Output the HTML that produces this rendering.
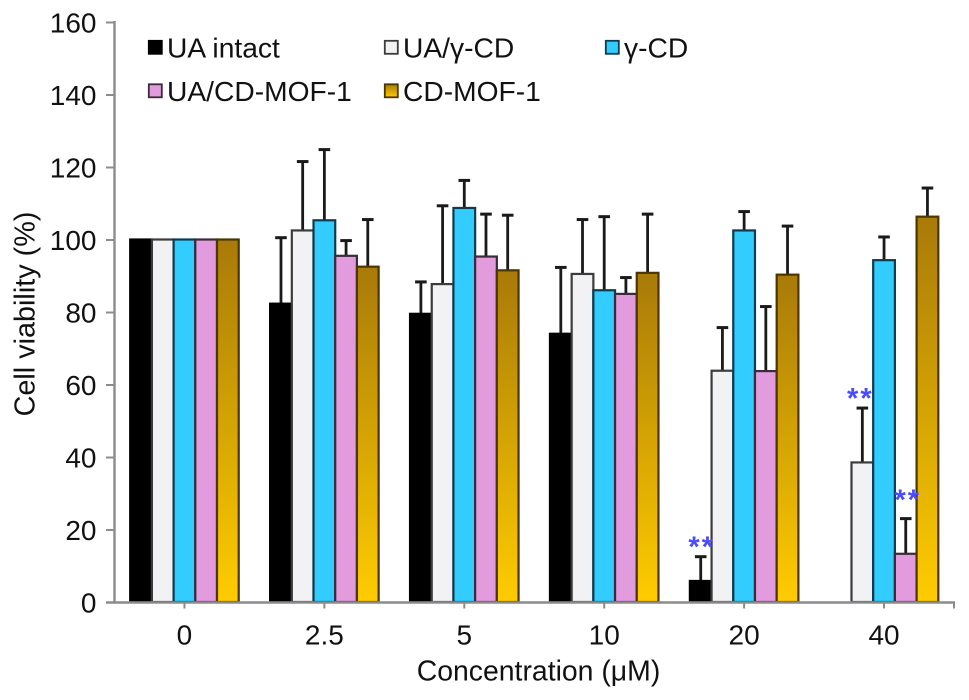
<!DOCTYPE html>
<html>
<head>
<meta charset="utf-8">
<style>
html,body{margin:0;padding:0;background:#fff;}
svg{display:block;}
text{font-family:"Liberation Sans",sans-serif;fill:#111;font-size:28px;}
</style>
</head>
<body>
<svg id="chart" xmlns="http://www.w3.org/2000/svg" width="969" height="700" viewBox="0 0 969 700">
<defs>
<linearGradient id="goldGrad" x1="0" y1="0" x2="0" y2="1">
<stop offset="0" stop-color="#a87a08"/>
<stop offset="1" stop-color="#ffcc00"/>
</linearGradient>
</defs>
</svg>
<script>
const categories = ["0", "2.5", "5", "10", "20", "40"];
const yTicks = [0, 20, 40, 60, 80, 100, 120, 140, 160];
const seriesNames = ["UA intact", "UA/γ-CD", "γ-CD", "UA/CD-MOF-1", "CD-MOF-1"];
const uaIntact = [100, 82.3, 79.5, 74, 5.8, 0];
const uaGammaCd = [100, 102.5, 87.7, 90.5, 63.8, 38.5];
const gammaCd = [100, 105.3, 108.7, 86, 102.5, 94.3];
const uaCdMof = [100, 95.5, 95.3, 85, 63.7, 13.3];
const cdMof = [100, 92.5, 91.5, 90.8, 90.3, 106.3];
const uaIntactTop = [null, 100.5, 88.3, 92.3, 12.5, null];
const uaGammaCdTop = [null, 121.5, 109.3, 105.5, 75.7, 53.5];
const gammaCdTop = [null, 124.8, 116.3, 106.3, 107.7, 100.7];
const uaCdMofTop = [null, 99.7, 107, 89.5, 81.5, 23];
const cdMofTop = [null, 105.5, 106.7, 107, 103.7, 114.2];
const starSeries = [0, 1, 3];
const starGroups = [4, 5, 5];
const starValues = [16.4, 57.4, 29.4];

const allValues = [uaIntact, uaGammaCd, gammaCd, uaCdMof, cdMof];
const allTops = [uaIntactTop, uaGammaCdTop, gammaCdTop, uaCdMofTop, cdMofTop];
const fills = ["#000000", "#f2f2f4", "#33ccff", "#e29bdc", "url(#goldGrad)"];
const strokes = ["#000000", "#3c3c3c", "#0c3c50", "#3a2a3a", "#4c3600"];

const svg = document.getElementById('chart');
const NS = 'http://www.w3.org/2000/svg';
const plotLeft = 114.5, plotRight = 954, plotBottom = 602, plotTop = 22;
const groupWidth = (plotRight - plotLeft) / categories.length;
const barWidth = 21.7;

function y(v) { return plotBottom - (v / 160) * (plotBottom - plotTop); }
function groupCenter(g) { return plotLeft + groupWidth * (g + 0.5); }
function barLeft(g, s) { return groupCenter(g) - barWidth * 2.5 + s * barWidth; }
function make(tag, attrs, parent) {
  const e = document.createElementNS(NS, tag);
  for (const k in attrs) e.setAttribute(k, attrs[k]);
  (parent || svg).appendChild(e);
  return e;
}
function slug(s) { return s.toLowerCase().replace(/γ/g, 'gamma').replace(/[^a-z0-9]+/g, '-'); }

// Bars and error bars
allValues.forEach(function (vals, s) {
  vals.forEach(function (v, g) {
    const top = allTops[s][g];
    const cx = barLeft(g, s) + barWidth / 2;
    if (top !== null) {
      const stem = make('line', { x1: cx, x2: cx, y1: y(v), y2: y(top), stroke: '#1a1a1a', 'stroke-width': 2.8 });
      
      
      const cap = make('line', { x1: cx - 5.8, x2: cx + 5.8, y1: y(top), y2: y(top), stroke: '#1a1a1a', 'stroke-width': 3 });
      
      
    }
    if (v > 0) {
      const bar = make('rect', { x: barLeft(g, s), y: y(v), width: barWidth, height: plotBottom - y(v), fill: fills[s], stroke: strokes[s], 'stroke-width': 2.2 });
      
      
    }
  });
});

// Axes
const yAxis = make('line', { x1: plotLeft, x2: plotLeft, y1: plotTop - 1, y2: plotBottom + 1, stroke: '#8c8c8c', 'stroke-width': 2.4 });


const xAxis = make('line', { x1: 106, x2: plotRight + 1, y1: plotBottom + 0.5, y2: plotBottom + 0.5, stroke: '#8c8c8c', 'stroke-width': 2.4 });


const endTick = make('line', { x1: plotRight, x2: plotRight, y1: plotBottom, y2: plotBottom + 6.5, stroke: '#8c8c8c', 'stroke-width': 2 });



yTicks.forEach(function (t) {
  const tick = make('line', { x1: 106, x2: plotLeft, y1: y(t) + 0.5, y2: y(t) + 0.5, stroke: '#8c8c8c', 'stroke-width': 2 });
  
  
  const label = make('text', { x: 96.5, y: y(t) + 10.3, 'text-anchor': 'end' });
  label.textContent = t;
  
  
});

categories.forEach(function (c, g) {
  const tick = make('line', { x1: groupCenter(g), x2: groupCenter(g), y1: plotBottom, y2: plotBottom + 6.5, stroke: '#8c8c8c', 'stroke-width': 2 });
  
  
  const label = make('text', { x: groupCenter(g), y: 644.5, 'text-anchor': 'middle' });
  label.textContent = c;
  
  
});

// Axis titles
const xTitle = make('text', { x: 538.5, y: 680.5, 'text-anchor': 'middle', style: 'font-size:28.4px' });
xTitle.textContent = 'Concentration (μM)';


const yTitle = make('text', { x: 0, y: 0, 'text-anchor': 'middle', transform: 'translate(34.5,314) rotate(-90)', style: 'font-size:28.8px' });
yTitle.textContent = 'Cell viability (%)';



// Significance markers
starValues.forEach(function (v, i) {
  const cx = barLeft(starGroups[i], starSeries[i]) + barWidth / 2 + (starSeries[i] === 1 ? -2 : starSeries[i] === 3 ? 2 : 1);
  const star = make('text', { x: cx, y: y(v) + 14, 'text-anchor': 'middle', style: 'font-size:29px;font-weight:bold;fill:#4a4aff;letter-spacing:2px' });
  star.textContent = '**';
  
  
});

// Legend
const legendX = [148, 384, 605, 148, 384];
const legendY = [47, 47, 47, 90.5, 90.5];
const legendOrder = [0, 1, 2, 3, 4];
legendOrder.forEach(function (s, i) {
  const sw = make('rect', { x: legendX[i] + 0.8, y: legendY[i] - 6.2, width: 13, height: 13, fill: fills[s], stroke: strokes[s], 'stroke-width': 1.8 });
  
  
  const t = make('text', { x: legendX[i] + 19, y: legendY[i] + 10.5, style: 'font-size:28.2px' });
  t.textContent = seriesNames[s];
  
  
});
</script>
</body>
</html>
